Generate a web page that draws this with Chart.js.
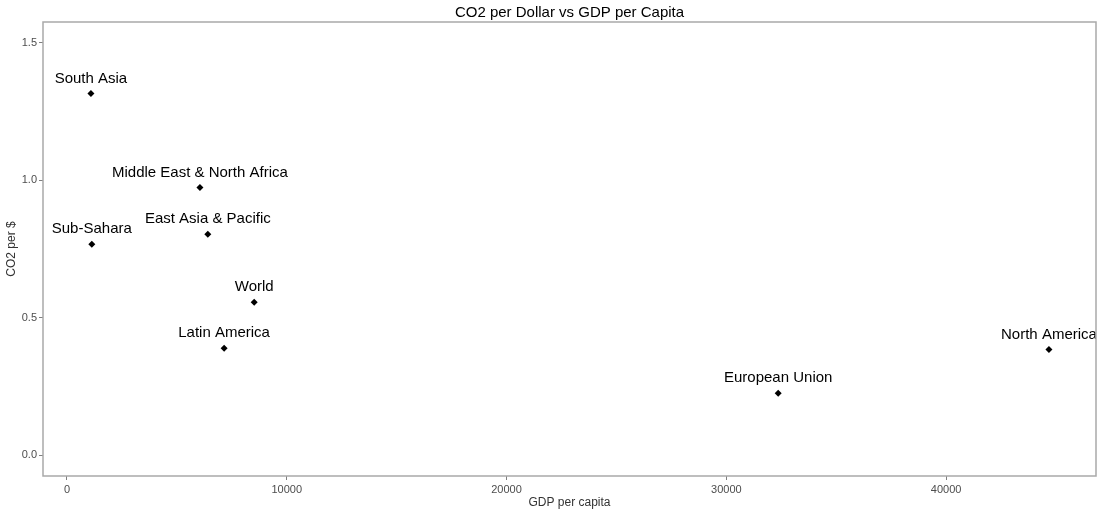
<!DOCTYPE html>
<html>
<head>
<meta charset="utf-8">
<script src="https://cdn.jsdelivr.net/npm/chart.js@4"></script>
<style>
  html, body { margin: 0; padding: 0; background: #fff; }
  #wrap { width: 1100px; height: 510px; }
</style>
</head>
<body>
<div id="wrap"><canvas id="co2Chart"></canvas></div>
<script>
// ===== DATA =====
const regions = ['South Asia', 'Sub-Sahara', 'Middle East & North Africa', 'East Asia & Pacific',
  'World', 'Latin America', 'European Union', 'North America'];
const gdpPerCapita = [1090, 1130, 6050, 6410, 8520, 7150, 32360, 44680];
const co2PerDollar = [1.316, 0.767, 0.974, 0.804, 0.556, 0.389, 0.225, 0.384];
const xTicks = [0, 10000, 20000, 30000, 40000];
const yTicks = [0, 0.5, 1.0, 1.5];

const FONT = "'Liberation Sans', Arial, sans-serif";
const TITLE = 'CO2 per Dollar vs GDP per Capita';

// ===== PLUGINS =====
// panel border + title centred on the plot area
const panelPlugin = {
  id: 'panel',
  afterDraw(chart) {
    const { ctx, chartArea: a } = chart;
    ctx.save();
    ctx.strokeStyle = '#a9a9a9';
    ctx.lineWidth = 1.5;
    ctx.strokeRect(a.left, a.top, a.right - a.left, a.bottom - a.top);
    ctx.fillStyle = '#000';
    ctx.font = '15px ' + FONT;
    ctx.textAlign = 'center';
    ctx.textBaseline = 'middle';
    ctx.fillText(TITLE, (a.left + a.right) / 2, 13);
    ctx.restore();
  }
};

// text label above each point, clipped to the panel
const labelPlugin = {
  id: 'pointLabels',
  afterDatasetsDraw(chart) {
    const { ctx, chartArea: a } = chart;
    const meta = chart.getDatasetMeta(0);
    ctx.save();
    ctx.beginPath();
    ctx.rect(a.left, a.top, a.right - a.left, a.bottom - a.top);
    ctx.clip();
    ctx.fillStyle = '#000';
    ctx.font = '15px ' + FONT;
    ctx.textAlign = 'center';
    ctx.textBaseline = 'middle';
    meta.data.forEach((pt, i) => {
      ctx.fillText(regions[i], pt.x, pt.y - 15);
    });
    ctx.restore();
  }
};

// ===== CHART =====
new Chart(document.getElementById('co2Chart'), {
  type: 'scatter',
  data: {
    datasets: [{
      label: 'CO2 per $',
      data: gdpPerCapita.map((g, i) => ({ x: g, y: co2PerDollar[i] })),
      backgroundColor: '#000',
      borderColor: '#000',
      pointStyle: 'rectRot',
      pointRadius: 3.5,
      pointBorderWidth: 0
    }]
  },
  options: {
    responsive: true,
    maintainAspectRatio: false,
    animation: false,
    layout: { padding: { top: 22, right: 3, left: 0, bottom: 0 } },
    plugins: {
      legend: { display: false },
      title: { display: false },
      tooltip: { enabled: false }
    },
    scales: {
      x: {
        type: 'linear',
        min: -1090,
        max: 46820,
        afterBuildTicks: s => { s.ticks = xTicks.map(v => ({ value: v })); },
        afterFit: s => { s.height = 34; },
        border: { display: false },
        grid: { drawOnChartArea: false, drawTicks: true, tickLength: 4, color: '#7f7f7f' },
        ticks: {
          color: '#4d4d4d',
          font: { family: FONT, size: 11 },
          padding: 3,
          maxRotation: 0,
          callback: v => String(v)
        },
        title: {
          display: true,
          text: 'GDP per capita',
          color: '#333',
          font: { family: FONT, size: 12 },
          padding: { top: 0, bottom: 0 }
        }
      },
      y: {
        type: 'linear',
        min: -0.076,
        max: 1.576,
        afterBuildTicks: s => { s.ticks = yTicks.map(v => ({ value: v })); },
        afterFit: s => { s.width = 43; },
        border: { display: false },
        grid: { drawOnChartArea: false, drawTicks: true, tickLength: 4, color: '#7f7f7f' },
        ticks: {
          color: '#4d4d4d',
          font: { family: FONT, size: 11 },
          padding: 2,
          callback: v => Number(v).toFixed(1)
        },
        title: {
          display: true,
          text: 'CO2 per $',
          color: '#333',
          font: { family: FONT, size: 12 },
          padding: { top: 4, bottom: 0 }
        }
      }
    }
  },
  plugins: [panelPlugin, labelPlugin]
});
</script>
</body>
</html>
